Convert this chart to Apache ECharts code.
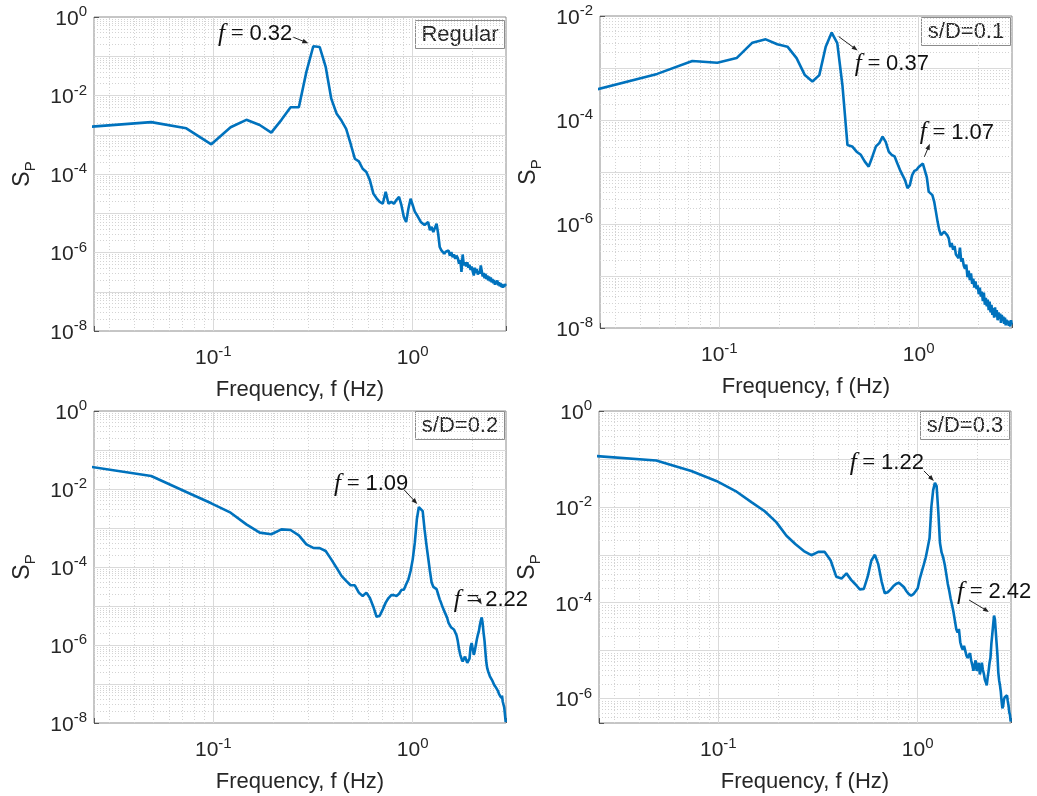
<!DOCTYPE html>
<html>
<head>
<meta charset="utf-8">
<script src="https://cdn.jsdelivr.net/npm/echarts@6/dist/echarts.min.js"></script>
<style>
  html, body { margin: 0; padding: 0; background: #fff; }
  #chart { width: 1037px; height: 796px; }
</style>
</head>
<body>
<div id="chart"></div>
<script>
// Frequency bins of the pressure spectra (Hz)
const freq = [
  0.0244, 0.0488, 0.0732, 0.0977, 0.1221, 0.1465, 0.1709, 0.1953, 0.2197, 0.2441,
  0.2686, 0.2930, 0.3174, 0.3418, 0.3662, 0.3906, 0.4150, 0.4395, 0.4639, 0.4883,
  0.5127, 0.5371, 0.5615, 0.5859, 0.6104, 0.6348, 0.6592, 0.6836, 0.7080, 0.7324,
  0.7568, 0.7813, 0.8057, 0.8301, 0.8545, 0.8789, 0.9033, 0.9277, 0.9521, 0.9766,
  1.0010, 1.0254, 1.0498, 1.0742, 1.0986, 1.1230, 1.1475, 1.1719, 1.1963, 1.2207,
  1.2451, 1.2695, 1.2939, 1.3184, 1.3428, 1.3672, 1.3916, 1.4160, 1.4404, 1.4648,
  1.4893, 1.5137, 1.5381, 1.5625, 1.5869, 1.6113, 1.6357, 1.6602, 1.6846, 1.7090,
  1.7334, 1.7578, 1.7822, 1.8066, 1.8311, 1.8555, 1.8799, 1.9043, 1.9287, 1.9531,
  1.9775, 2.0020, 2.0264, 2.0508, 2.0752, 2.0996, 2.1240, 2.1484, 2.1729, 2.1973,
  2.2217, 2.2461, 2.2705, 2.2949, 2.3193, 2.3438, 2.3682, 2.3926, 2.4170, 2.4414,
  2.4658, 2.4902, 2.5146, 2.5391, 2.5635, 2.5879, 2.6123, 2.6367, 2.6611, 2.6855,
  2.7100, 2.7344, 2.7588, 2.7832, 2.8076, 2.8320, 2.8564, 2.8809, 2.9053, 2.9297
];

// Pressure spectrum S_P, regular case
const spRegular = [
  1.6e-3, 2.1e-3, 1.46e-3, 5.7e-4, 1.55e-3, 2.4e-3, 1.77e-3, 1.13e-3, 2.4e-3, 5.0e-3,
  5.0e-3, 4.0e-2, 0.18, 0.172, 5.4e-2, 8.3e-3, 3.5e-3, 2.3e-3, 1.42e-3, 5.9e-4,
  2.45e-4, 2.1e-4, 1.36e-4, 1.12e-4, 6.9e-5, 3.2e-5, 2.4e-5, 1.94e-5, 1.75e-5, 3.5e-5,
  1.75e-5, 1.94e-5, 1.75e-5, 2.2e-5, 2.6e-5, 1.58e-5, 8.0e-6, 6.0e-6, 1.3e-5, 2.35e-5,
  1.6e-5, 1.1e-5, 9.1e-6, 9.7e-6, 6.0e-6, 6.6e-6, 5.0e-6, 4.5e-6, 6.0e-6, 3.7e-6,
  4.5e-6, 3.3e-6, 3.7e-6, 5.4e-6, 3.0e-6, 1.38e-6, 1.15e-6, 1.25e-6, 9.3e-7, 1.05e-6,
  9.5e-7, 1.12e-6, 8.3e-7, 1.02e-6, 7.6e-7, 8.9e-7, 6.9e-7, 8.3e-7, 7.2e-7, 5.2e-7,
  6.5e-7, 3.2e-7, 8.9e-7, 4.7e-7, 5.6e-7, 4.4e-7, 5.6e-7, 4.1e-7, 4.9e-7, 3.6e-7,
  4.4e-7, 3.3e-7, 2.6e-7, 4.1e-7, 3.0e-7, 3.8e-7, 2.75e-7, 3.3e-7, 2.9e-7, 4.7e-7,
  4.9e-7, 2.45e-7, 3.0e-7, 2.2e-7, 2.9e-7, 2.1e-7, 2.6e-7, 1.95e-7, 2.45e-7, 1.86e-7,
  2.3e-7, 1.74e-7, 2.1e-7, 1.66e-7, 2.0e-7, 1.51e-7, 1.86e-7, 1.58e-7, 1.95e-7, 1.45e-7,
  1.74e-7, 1.38e-7, 1.66e-7, 1.32e-7, 1.58e-7, 1.26e-7, 1.51e-7, 1.32e-7, 1.58e-7, 1.41e-7
];

// Pressure spectrum S_P, s/D = 0.1
const spSD01 = [
  3.9e-4, 7.7e-4, 1.36e-3, 1.26e-3, 1.55e-3, 3.07e-3, 3.56e-3, 2.86e-3, 2.57e-3, 1.55e-3,
  7.3e-4, 5.5e-4, 7.3e-4, 2.57e-3, 4.8e-3, 3.0e-3, 4.5e-4, 3.3e-5, 3.1e-5, 2.46e-5,
  2.14e-5, 1.58e-5, 1.27e-5, 1.97e-5, 3.1e-5, 3.6e-5, 4.8e-5, 3.8e-5, 2.46e-5, 2.14e-5,
  2.0e-5, 1.47e-5, 1.1e-5, 8.7e-6, 7.0e-6, 4.9e-6, 5.6e-6, 8.7e-6, 1.05e-5, 1.1e-5,
  1.25e-5, 1.35e-5, 1.45e-5, 1.5e-5, 8.0e-6, 4.2e-6, 4.4e-6, 3.6e-6, 2.7e-6, 1.73e-6,
  1.1e-6, 7.6e-7, 6.1e-7, 5.7e-7, 7.1e-7, 7.6e-7, 6.1e-7, 5.3e-7, 3.6e-7, 4.3e-7,
  3.2e-7, 3.8e-7, 2.6e-7, 2.8e-7, 2.2e-7, 3.5e-7, 1.9e-7, 2.2e-7, 1.58e-7, 1.38e-7,
  1.66e-7, 9.5e-8, 1.26e-7, 8.3e-8, 1.12e-7, 7.1e-8, 8.9e-8, 6.0e-8, 7.9e-8, 5.6e-8,
  6.6e-8, 4.5e-8, 6.0e-8, 4.0e-8, 5.0e-8, 3.3e-8, 4.8e-8, 2.8e-8, 3.8e-8, 2.6e-8,
  3.5e-8, 2.2e-8, 3.2e-8, 2.0e-8, 2.8e-8, 1.78e-8, 2.4e-8, 1.58e-8, 2.5e-8, 1.66e-8,
  2.2e-8, 1.41e-8, 2.0e-8, 1.51e-8, 1.9e-8, 1.26e-8, 1.78e-8, 1.38e-8, 1.66e-8, 1.2e-8,
  1.58e-8, 1.12e-8, 1.45e-8, 1.2e-8, 1.38e-8, 1.1e-8, 1.32e-8, 1.07e-8, 1.41e-8, 1.17e-8
];

// Pressure spectrum S_P, s/D = 0.2
const spSD02 = [
  3.7e-2, 2.15e-2, 8.4e-3, 4.3e-3, 2.47e-3, 1.24e-3, 7.6e-4, 6.9e-4, 9.2e-4, 8.9e-4,
  6.5e-4, 3.8e-4, 3.1e-4, 3.05e-4, 2.57e-4, 1.57e-4, 9.6e-5, 5.9e-5, 4.4e-5, 3.4e-5,
  3.4e-5, 2.2e-5, 1.8e-5, 2.2e-5, 1.6e-5, 9.6e-6, 5.3e-6, 5.6e-6, 8.2e-6, 1.22e-5,
  1.6e-5, 1.9e-5, 1.9e-5, 1.8e-5, 2.05e-5, 2.6e-5, 2.6e-5, 3.6e-5, 4.8e-5, 7.9e-5,
  1.57e-4, 4.2e-4, 1.67e-3, 3.45e-3, 3.8e-3, 2.7e-3, 9.2e-4, 3.8e-4, 1.73e-4, 7.9e-5,
  4.0e-5, 3.1e-5, 2.9e-5, 2.7e-5, 2.0e-5, 1.48e-5, 1.17e-5, 9.1e-6, 7.4e-6, 6.1e-6,
  5.0e-6, 3.7e-6, 3.3e-6, 2.8e-6, 2.8e-6, 2.5e-6, 2.24e-6, 1.78e-6, 1.26e-6, 7.9e-7,
  5.6e-7, 4.5e-7, 3.8e-7, 4.4e-7, 5.0e-7, 5.2e-7, 3.5e-7, 3.2e-7, 4.5e-7, 8.9e-7,
  1.12e-6, 7.9e-7, 5.6e-7, 7.1e-7, 1.0e-6, 1.41e-6, 1.82e-6, 2.24e-6, 3.2e-6, 4.2e-6,
  5.1e-6, 3.5e-6, 2.0e-6, 1.26e-6, 6.3e-7, 3.5e-7, 2.5e-7, 2.1e-7, 1.9e-7, 1.58e-7,
  1.41e-7, 1.51e-7, 1.2e-7, 1.12e-7, 9.5e-8, 1.05e-7, 8.3e-8, 7.6e-8, 8.9e-8, 6.5e-8,
  5.6e-8, 6.3e-8, 5.0e-8, 4.4e-8, 5.0e-8, 3.5e-8, 3.2e-8, 2.5e-8, 2.8e-8, 1.05e-8
];

// Pressure spectrum S_P, s/D = 0.3
const spSD03 = [
  0.115, 0.093, 0.056, 0.0347, 0.0214, 0.0126, 8.1e-3, 4.8e-3, 2.5e-3, 1.66e-3,
  1.2e-3, 9.8e-4, 1.15e-3, 1.15e-3, 7.6e-4, 3.5e-4, 3.2e-4, 4.1e-4, 3.0e-4, 2.4e-4,
  1.9e-4, 1.95e-4, 3.5e-4, 7.6e-4, 1.0e-3, 6.3e-4, 2.8e-4, 1.58e-4, 1.66e-4, 1.9e-4,
  2.24e-4, 2.5e-4, 2.6e-4, 2.34e-4, 2.1e-4, 1.74e-4, 1.51e-4, 1.41e-4, 1.51e-4, 1.74e-4,
  2.0e-4, 3.2e-4, 4.5e-4, 6.3e-4, 8.9e-4, 1.41e-3, 2.24e-3, 1.0e-2, 2.24e-2, 3.16e-2,
  2.7e-2, 7.9e-3, 1.78e-3, 1.12e-3, 8.9e-4, 6.3e-4, 4.0e-4, 2.5e-4, 1.78e-4, 1.2e-4,
  8.9e-5, 6.3e-5, 4.2e-5, 2.8e-5, 2.4e-5, 2.8e-5, 1.5e-5, 1.2e-5, 1.05e-5, 1.26e-5,
  1.32e-5, 7.9e-6, 7.1e-6, 7.6e-6, 8.9e-6, 6.3e-6, 5.0e-6, 3.8e-6, 5.0e-6, 6.3e-6,
  3.8e-6, 4.5e-6, 5.6e-6, 3.2e-6, 4.0e-6, 5.6e-6, 4.0e-6, 3.3e-6, 2.5e-6, 2.2e-6,
  1.9e-6, 2.8e-6, 3.8e-6, 5.6e-6, 7.1e-6, 1.4e-5, 2.2e-5, 3.5e-5, 5.4e-5, 4.5e-5,
  2.5e-5, 1.4e-5, 7.9e-6, 3.5e-6, 2.4e-6, 1.9e-6, 1.41e-6, 8.9e-7, 6.3e-7, 7.1e-7,
  9.5e-7, 1.07e-6, 1.12e-6, 1.05e-6, 1.17e-6, 8.9e-7, 7.2e-7, 5.2e-7, 4.6e-7, 3.3e-7
];

// Panel tags, labelled peak frequencies and axis limits
const panelTags = ['Regular', 's/D=0.1', 's/D=0.2', 's/D=0.3'];
const peakFreqs = [[0.32], [0.37, 1.07], [1.09, 2.22], [1.22, 2.42]];
const xRange = [0.0252, 2.94];
const yMin = [1e-8, 1e-8, 1e-8, 3.1e-7];
const yMax = [1, 1e-2, 1, 1];

const spectra = [spRegular, spSD01, spSD02, spSD03];

const SANS = "'Liberation Sans', Arial, Helvetica, sans-serif";
const SERIF = "'Liberation Serif', 'Times New Roman', serif";
const INK = '#262626';
const FRAME = '#8c8c8c';
const CURVE = '#0072BD';

const grids = [
  { left: 94, top: 17, width: 412, height: 314 },
  { left: 600, top: 16, width: 412, height: 312 },
  { left: 94, top: 411, width: 412, height: 312 },
  { left: 599, top: 411, width: 412, height: 312 }
];

function powerOfTen(v) {
  const e = Math.log10(v);
  const r = Math.round(e);
  return Math.abs(e - r) < 1e-6 ? r : null;
}

const supRich = {
  b: { fontSize: 21, fontFamily: SANS, color: INK, verticalAlign: 'bottom' },
  s: { fontSize: 15, fontFamily: SANS, color: INK, verticalAlign: 'bottom', padding: [0, 0, 10, 0] }
};

function xLabel(v) {
  const e = powerOfTen(v);
  return e === null ? '' : '{b|10}{s|' + e + '}';
}
function yLabel(v) {
  const e = powerOfTen(v);
  return (e === null || e % 2 !== 0) ? '' : '{b|10}{s|' + e + '}';
}

const majorGrid = { color: '#dadada', width: 1, type: 'solid' };
const minorGrid = { color: '#d3d3d3', width: 1, type: [1, 2] };

// log-axis grid lines at 1..9 x 10^e, skipping those on the frame
function gridLines(lo, hi, dim) {
  const items = [];
  const e0 = Math.floor(Math.log10(lo));
  const e1 = Math.ceil(Math.log10(hi));
  for (let e = e0; e <= e1; e++) {
    for (let m = 1; m <= 9; m++) {
      const v = m * Math.pow(10, e);
      if (v <= lo * 1.0001 || v >= hi * 0.9999) continue;
      const item = { lineStyle: m === 1 ? majorGrid : minorGrid };
      item[dim] = v;
      items.push(item);
    }
  }
  return items;
}

const xAxes = grids.map((g, i) => ({
  type: 'log', logBase: 10, gridIndex: i,
  min: xRange[0], max: xRange[1],
  axisLine: { show: false },
  axisTick: { show: true, inside: true, length: 5, lineStyle: { color: '#555' } },
  splitLine: { show: false },
  minorTick: { show: false },
  axisLabel: { formatter: xLabel, rich: supRich, margin: 13, color: INK },
  name: 'Frequency, f (Hz)',
  nameLocation: 'middle', nameGap: 48, nameMoveOverlap: false,
  nameTextStyle: { fontSize: 22, fontFamily: SANS, color: INK }
}));

const yAxes = grids.map((g, i) => ({
  type: 'log', logBase: 10, gridIndex: i,
  min: yMin[i], max: yMax[i],
  axisLine: { show: false },
  axisTick: { show: true, inside: true, length: 5, lineStyle: { color: '#555' } },
  splitLine: { show: false },
  minorTick: { show: false },
  axisLabel: { formatter: yLabel, rich: supRich, margin: 7, color: INK },
  name: '{m|S}{sub|P}',
  nameLocation: 'middle', nameRotate: 90, nameGap: 56, nameMoveOverlap: false,
  nameTextStyle: {
    rich: {
      m: { fontSize: 23, fontFamily: SANS, color: INK, verticalAlign: 'top' },
      sub: { fontSize: 15, fontFamily: SANS, color: INK, verticalAlign: 'top', padding: [12, 0, 0, 0] }
    }
  }
}));

const gridSeries = grids.map((g, i) => ({
  type: 'line', xAxisIndex: i, yAxisIndex: i, data: [], silent: true,
  markLine: {
    silent: true, symbol: ['none', 'none'], label: { show: false }, z: 1, animation: false,
    precision: 14,
    data: gridLines(xRange[0], xRange[1], 'xAxis').concat(gridLines(yMin[i], yMax[i], 'yAxis'))
  }
}));

const curveSeries = spectra.map((vals, i) => ({
  type: 'line', xAxisIndex: i, yAxisIndex: i,
  data: freq.map((f, j) => [f, vals[j]]),
  symbol: 'none', showSymbol: false, silent: true, clip: true, z: 3,
  lineStyle: { color: CURVE, width: 2.6 },
  itemStyle: { color: CURVE }
}));

// tag boxes in the upper right corner of each panel
const boxTop = [20, 17, 411, 411];
const boxGraphics = grids.map((g, i) => ({
  id: 'tag' + i, type: 'group', left: g.left + g.width - 91, top: boxTop[i], z: 20,
  children: [
    { id: 'tagRect' + i, type: 'rect', shape: { x: 0.5, y: 0.5, width: 89, height: 28 },
      style: { fill: '#fff', stroke: FRAME, lineWidth: 1 } },
    { id: 'tagText' + i, type: 'text', x: 45, y: 15,
      style: { text: panelTags[i], fill: INK, font: '22px ' + SANS, align: 'center', verticalAlign: 'middle' } }
  ]
}));

const chart = echarts.init(document.getElementById('chart'), null, { renderer: 'canvas' });
chart.setOption({
  animation: false,
  backgroundColor: '#fff',
  textStyle: { fontFamily: SANS },
  grid: grids.map(g => Object.assign({}, g, {
    show: true, borderColor: FRAME, borderWidth: 1, backgroundColor: 'transparent',
    containLabel: false, outerBoundsMode: 'none'
  })),
  xAxis: xAxes,
  yAxis: yAxes,
  series: gridSeries.concat(curveSeries),
  graphic: boxGraphics
});

// peak annotations: text offset and arrow (start -> head) relative to the peak point
const noteLayout = [
  [{ dx: -21, dy: -12, align: 'right', from: [-20, -9], to: [-5, -3] }],
  [{ dx: 23, dy: 31.5, align: 'left', from: [7, 4], to: [26, 18] },
   { dx: -5, dy: -30, align: 'left', from: [-0.5, -6], to: [5, -19] }],
  [{ dx: -12.5, dy: -21, align: 'right', from: [-16.5, -15.4], to: [-3.5, -1.4] },
   { dx: -28, dy: -17, align: 'left', from: [-5, -21], to: [0, -13] }],
  [{ dx: -11, dy: -19.5, align: 'right', from: [-11, -12], to: [-1, -2] },
   { dx: -37, dy: -23.6, align: 'left', from: [-25, -15.6], to: [-5, -3.6] }]
];

const noteRich = {
  i: { fontFamily: SERIF, fontStyle: 'italic', fontSize: 25, fill: '#111' },
  e: { fontFamily: SERIF, fontSize: 23, fill: '#111' },
  n: { fontFamily: SANS, fontSize: 22, fill: '#111' }
};

const noteGraphics = [];
peakFreqs.forEach((list, p) => {
  list.forEach((fp, q) => {
    let j = 0;
    freq.forEach((f, k) => { if (Math.abs(f - fp) < Math.abs(freq[j] - fp)) j = k; });
    const pt = chart.convertToPixel({ gridIndex: p }, [freq[j], spectra[p][j]]);
    const L = noteLayout[p][q];
    const a = [pt[0] + L.from[0], pt[1] + L.from[1]];
    const b = [pt[0] + L.to[0], pt[1] + L.to[1]];
    const len = Math.hypot(b[0] - a[0], b[1] - a[1]);
    const ux = (b[0] - a[0]) / len, uy = (b[1] - a[1]) / len;
    const hl = 6, hw = 2.3;
    const tag = 'note' + p + '_' + q;
    noteGraphics.push({
      id: tag + 'line', type: 'line', z: 30, silent: true,
      shape: { x1: a[0], y1: a[1], x2: b[0] - ux * hl * 0.6, y2: b[1] - uy * hl * 0.6 },
      style: { stroke: '#222', lineWidth: 1 }
    });
    noteGraphics.push({
      id: tag + 'head', type: 'polygon', z: 30, silent: true,
      shape: { points: [
        [b[0], b[1]],
        [b[0] - ux * hl - uy * hw, b[1] - uy * hl + ux * hw],
        [b[0] - ux * hl + uy * hw, b[1] - uy * hl - ux * hw]
      ] },
      style: { fill: '#222' }
    });
    noteGraphics.push({
      id: tag + 'text', type: 'text', z: 30, silent: true,
      x: pt[0] + L.dx, y: pt[1] + L.dy,
      style: {
        text: '{i|f}{e| = }{n|' + fp.toFixed(2) + '}',
        rich: noteRich, align: L.align, verticalAlign: 'middle', fill: '#111'
      }
    });
  });
});

chart.setOption({ graphic: noteGraphics });
</script>
</body>
</html>
